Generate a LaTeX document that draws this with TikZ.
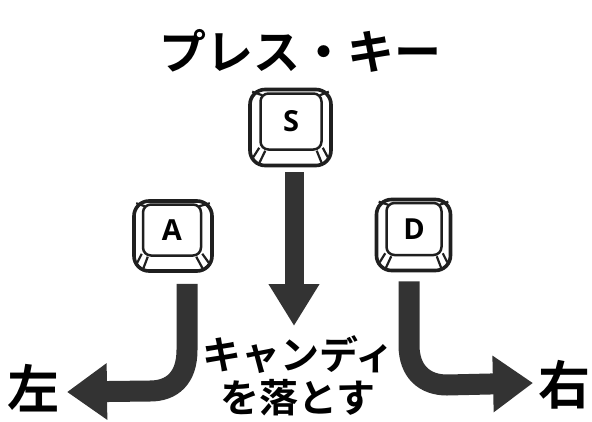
\documentclass[tikz,border=0pt]{standalone}
\usepackage{fontspec}
\setmainfont{Open Sans}[BoldFont={Open Sans Bold}]
\newfontfamily\jpfont{Noto Sans CJK JP}[BoldFont={Noto Sans CJK JP Bold}]
\usetikzlibrary{arrows.meta,calc}
\tikzset{
  x=1pt,y=-1pt,
  keyout/.style={draw=black!88,line width=3.6pt,rounded corners=15pt,fill=white,inner sep=0pt},
  keyin/.style={draw=black!88,line width=2.5pt,rounded corners=8pt,inner sep=0pt,font=\bfseries\fontsize{#1}{#1}\selectfont},
  keyin/.default=29,
  keyline/.style={draw=black!88,line width=2.2pt},
  bigarrow/.style={draw=black!80,line width=21pt,-{Triangle[length=40pt,width=54pt]}},
  jplabel/.style={inner sep=0pt,text=black,font=\jpfont\bfseries\fontsize{#1}{#1}\selectfont},
}
\newcommand{\keydetail}[2]{%
  \draw[keyline] ($(#1.north west)+(4,4)$) -- ($(#2.north west)+(3,3)$);
  \draw[keyline] ($(#1.north east)+(-4,4)$) -- ($(#2.north east)+(-3,3)$);
  \draw[keyline] ($(#1.south west)+(5,-10)$) -- ($(#2.south west)+(0,-3)$);
  \draw[keyline] ($(#1.south west)+(11,-4)$) -- ($(#2.south west)+(6,0)$);
  \draw[keyline] ($(#1.south east)+(-5,-10)$) -- ($(#2.south east)+(0,-3)$);
  \draw[keyline] ($(#1.south east)+(-11,-4)$) -- ($(#2.south east)+(-6,0)$);
}
\begin{document}
\begin{tikzpicture}
\useasboundingbox (0,0) rectangle (592,421);
% title
\node[jplabel=47] (title) at (300,50.5) {プレス・キー};
% keys
\node[keyout,minimum width=81pt,minimum height=76pt] (outS) at (290.5,127.5) {};
\node[keyin,minimum width=61pt,minimum height=56pt] (keyS) at (291,121.5) {S};
\keydetail{outS}{keyS}
\node[keyout,minimum width=78pt,minimum height=70pt] (outA) at (173,236) {};
\node[keyin,minimum width=58pt,minimum height=51pt] (keyA) at (172,230) {A};
\keydetail{outA}{keyA}
\node[keyout,minimum width=74pt,minimum height=71pt] (outD) at (413.5,235) {};
\node[keyin,minimum width=55pt,minimum height=52pt] (keyD) at (414,229) {D};
\keydetail{outD}{keyD}
% arrow anchors
\coordinate (tipS) at (294,326);
\coordinate (tipL) at (67,392);
\coordinate (tipR) at (533,383);
% connectors
\draw[bigarrow,line width=19pt,-{Triangle[length=42pt,width=48pt]}] ($(outS.south)+(3.5,5)$) -- (tipS);
\draw[bigarrow] ($(outA.south)+(14,11)$) -- (187,350)
  .. controls (187,378) and (172,391) .. (150,391) -- (tipL);
\draw[bigarrow] ($(outD.south)+(-4.5,9)$) -- (409,345)
  .. controls (409,372) and (425,385) .. (447,385) -- (tipR);
% labels
\node[jplabel=39] (candy1) at (298.5,355) {キャンディ};
\node[jplabel=39] (candy2) at (298,398) {を落とす};
\node[jplabel=52] (left) at (34,388.5) {左};
\node[jplabel=52] (right) at (564,385) {右};
\end{tikzpicture}
\end{document}
